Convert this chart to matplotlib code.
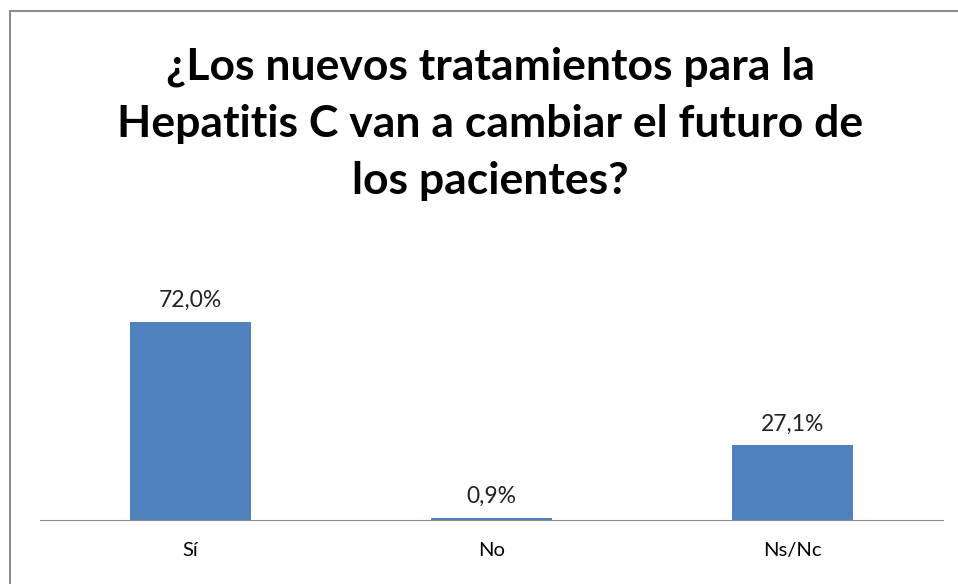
import matplotlib.pyplot as plt
from matplotlib.patches import Rectangle

categories = ["Sí", "No", "Ns/Nc"]
values = [72.0, 0.9, 27.1]
labels = ["72,0%", "0,9%", "27,1%"]
title = "¿Los nuevos tratamientos para la\nHepatitis C van a cambiar el futuro de\nlos pacientes?"

plt.rcParams['font.family'] = ['Lato', 'DejaVu Sans']

fig = plt.figure(figsize=(9.58, 5.84), dpi=100)
W, H = 958, 584

# marco del gráfico (solo se ven los bordes izquierdo y superior)
fig.patches.append(Rectangle((10 / W, -0.1), 1, 1.1 - 11 / H, transform=fig.transFigure,
                             fill=False, edgecolor='#8c8c8c', linewidth=1.5))

ax = fig.add_axes([40 / W, (H - 520) / H, 903 / W, 220 / H])
x = range(len(categories))
bars = ax.bar(x, values, width=0.4, color='#4F81BD')
ax.set_xlim(-0.5, 2.5)
ax.set_ylim(0, 80)

for b, lab in zip(bars, labels):
    ax.annotate(lab, (b.get_x() + b.get_width() / 2, b.get_height()),
                xytext=(0, 8), textcoords='offset points',
                ha='center', va='bottom', fontsize=16.5, color='#222222')

ax.set_xticks(list(x))
ax.set_xticklabels(categories, fontsize=14.5)
ax.tick_params(axis='x', length=0, pad=16)
ax.set_yticks([])
for s in ['top', 'right', 'left']:
    ax.spines[s].set_visible(False)
ax.spines['bottom'].set_color('#8c8c8c')

fig.text(490 / W, 1 - 124 / H, title, ha='center', va='center',
         fontsize=32, fontweight='bold', linespacing=1.52)

fig.savefig('out.png', dpi=100)
